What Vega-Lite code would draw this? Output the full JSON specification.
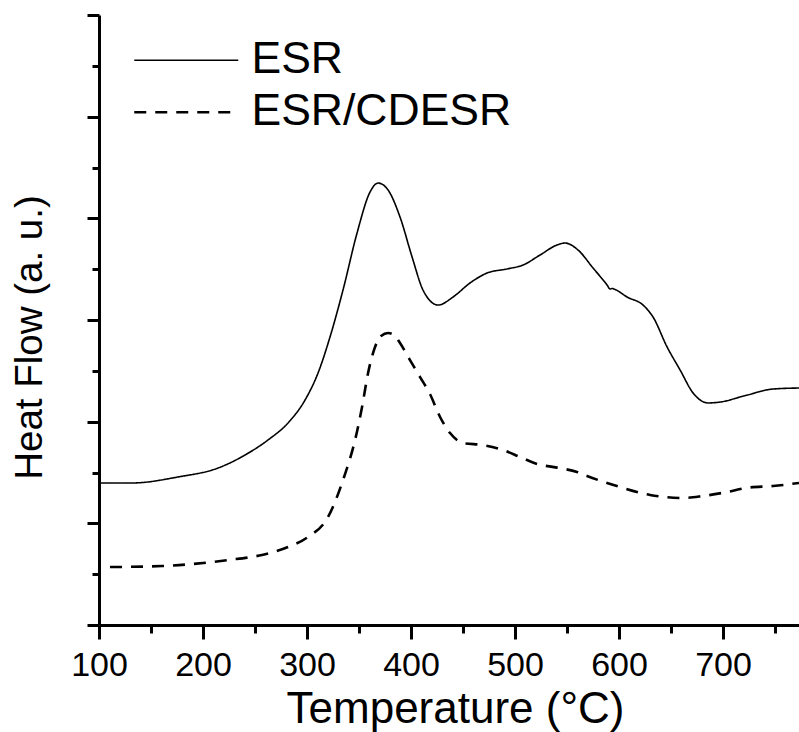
{
  "$schema": "https://vega.github.io/schema/vega-lite/v6.json",
  "width": 700,
  "height": 610,
  "autosize": {"type": "none"},
  "padding": {"left": 99, "top": 15, "right": 0, "bottom": 107},
  "background": "white",
  "config": {
    "view": {"stroke": null},
    "font": "Arial"
  },
  "data": {
    "values": [
      {"series": "ESR", "t": 100, "h": 1.397},
      {"series": "ESR", "t": 131.7, "h": 1.397},
      {"series": "ESR", "t": 176, "h": 1.456},
      {"series": "ESR", "t": 214.4, "h": 1.544},
      {"series": "ESR", "t": 240.4, "h": 1.672},
      {"series": "ESR", "t": 262.5, "h": 1.82},
      {"series": "ESR", "t": 281.7, "h": 1.987},
      {"series": "ESR", "t": 298.1, "h": 2.213},
      {"series": "ESR", "t": 310.6, "h": 2.479},
      {"series": "ESR", "t": 322.1, "h": 2.833},
      {"series": "ESR", "t": 334.6, "h": 3.295},
      {"series": "ESR", "t": 348.1, "h": 3.856},
      {"series": "ESR", "t": 360.6, "h": 4.259},
      {"series": "ESR", "t": 368.3, "h": 4.347},
      {"series": "ESR", "t": 377.9, "h": 4.279},
      {"series": "ESR", "t": 389.4, "h": 4.013},
      {"series": "ESR", "t": 401, "h": 3.62},
      {"series": "ESR", "t": 411.5, "h": 3.295},
      {"series": "ESR", "t": 426, "h": 3.147},
      {"series": "ESR", "t": 440.4, "h": 3.226},
      {"series": "ESR", "t": 456.7, "h": 3.364},
      {"series": "ESR", "t": 473.1, "h": 3.462},
      {"series": "ESR", "t": 492.3, "h": 3.502},
      {"series": "ESR", "t": 507.7, "h": 3.541},
      {"series": "ESR", "t": 524, "h": 3.639},
      {"series": "ESR", "t": 540.4, "h": 3.738},
      {"series": "ESR", "t": 548.1, "h": 3.757},
      {"series": "ESR", "t": 560.6, "h": 3.688},
      {"series": "ESR", "t": 575, "h": 3.511},
      {"series": "ESR", "t": 588.5, "h": 3.344},
      {"series": "ESR", "t": 591.3, "h": 3.305},
      {"series": "ESR", "t": 593.3, "h": 3.31},
      {"series": "ESR", "t": 596.2, "h": 3.3},
      {"series": "ESR", "t": 607.7, "h": 3.226},
      {"series": "ESR", "t": 623.1, "h": 3.147},
      {"series": "ESR", "t": 632.7, "h": 3.029},
      {"series": "ESR", "t": 646.2, "h": 2.734},
      {"series": "ESR", "t": 658.7, "h": 2.508},
      {"series": "ESR", "t": 671.2, "h": 2.282},
      {"series": "ESR", "t": 685.6, "h": 2.184},
      {"series": "ESR", "t": 697.1, "h": 2.193},
      {"series": "ESR", "t": 723.1, "h": 2.262},
      {"series": "ESR", "t": 748.1, "h": 2.321},
      {"series": "ESR", "t": 773, "h": 2.331},
      {"series": "ESR/CDESR", "t": 110.6, "h": 0.57},
      {"series": "ESR/CDESR", "t": 160.6, "h": 0.58},
      {"series": "ESR/CDESR", "t": 224, "h": 0.639},
      {"series": "ESR/CDESR", "t": 256.7, "h": 0.689},
      {"series": "ESR/CDESR", "t": 281.7, "h": 0.767},
      {"series": "ESR/CDESR", "t": 301, "h": 0.866},
      {"series": "ESR/CDESR", "t": 320.2, "h": 1.062},
      {"series": "ESR/CDESR", "t": 335.6, "h": 1.456},
      {"series": "ESR/CDESR", "t": 346.2, "h": 1.82},
      {"series": "ESR/CDESR", "t": 352.9, "h": 2.144},
      {"series": "ESR/CDESR", "t": 358.7, "h": 2.479},
      {"series": "ESR/CDESR", "t": 365.4, "h": 2.734},
      {"series": "ESR/CDESR", "t": 371.2, "h": 2.843},
      {"series": "ESR/CDESR", "t": 377.9, "h": 2.872},
      {"series": "ESR/CDESR", "t": 383.7, "h": 2.852},
      {"series": "ESR/CDESR", "t": 389.4, "h": 2.774},
      {"series": "ESR/CDESR", "t": 399, "h": 2.606},
      {"series": "ESR/CDESR", "t": 408.7, "h": 2.439},
      {"series": "ESR/CDESR", "t": 418.3, "h": 2.27},
      {"series": "ESR/CDESR", "t": 427.9, "h": 2.046},
      {"series": "ESR/CDESR", "t": 437.5, "h": 1.888},
      {"series": "ESR/CDESR", "t": 450, "h": 1.79},
      {"series": "ESR/CDESR", "t": 469.2, "h": 1.77},
      {"series": "ESR/CDESR", "t": 488.5, "h": 1.721},
      {"series": "ESR/CDESR", "t": 504.8, "h": 1.652},
      {"series": "ESR/CDESR", "t": 521.2, "h": 1.584},
      {"series": "ESR/CDESR", "t": 540.4, "h": 1.548},
      {"series": "ESR/CDESR", "t": 559.6, "h": 1.505},
      {"series": "ESR/CDESR", "t": 569.2, "h": 1.466},
      {"series": "ESR/CDESR", "t": 601, "h": 1.357},
      {"series": "ESR/CDESR", "t": 629.8, "h": 1.279},
      {"series": "ESR/CDESR", "t": 661.5, "h": 1.249},
      {"series": "ESR/CDESR", "t": 680.8, "h": 1.269},
      {"series": "ESR/CDESR", "t": 703.8, "h": 1.308},
      {"series": "ESR/CDESR", "t": 723.1, "h": 1.35},
      {"series": "ESR/CDESR", "t": 748.1, "h": 1.367},
      {"series": "ESR/CDESR", "t": 773, "h": 1.397}
    ]
  },
  "mark": {"type": "line", "interpolate": "monotone", "color": "black", "clip": true},
  "encoding": {
    "x": {
      "field": "t", "type": "quantitative",
      "scale": {"domain": [100, 773], "nice": false, "zero": false},
      "axis": {
        "values": [100, 150, 200, 250, 300, 350, 400, 450, 500, 550, 600, 650, 700, 750],
        "labelExpr": "datum.value % 100 === 0 ? datum.label : ''",
        "tickSize": {"expr": "datum.value % 100 === 0 ? 14 : 8"},
        "tickWidth": 3, "tickColor": "black",
        "domainWidth": 3, "domainColor": "black",
        "grid": false,
        "labelFontSize": 34, "labelColor": "black", "labelFont": "Arial",
        "labelPadding": 9, "labelFlush": false, "labelOverlap": false,
        "title": "Temperature (°C)",
        "titleFontSize": 44, "titleFontWeight": "normal", "titleColor": "black", "titleFont": "Arial",
        "titleX": 356, "titleY": 97, "titleBaseline": "alphabetic", "titleAlign": "center"
      }
    },
    "y": {
      "field": "h", "type": "quantitative",
      "scale": {"domain": [0, 6], "nice": false, "zero": false},
      "axis": {
        "values": [0, 0.5, 1, 1.5, 2, 2.5, 3, 3.5, 4, 4.5, 5, 5.5, 6],
        "labels": false,
        "tickSize": {"expr": "datum.value % 1 === 0 ? 12 : 7"},
        "tickWidth": 3, "tickColor": "black",
        "domainWidth": 3, "domainColor": "black",
        "grid": false,
        "title": "Heat Flow (a. u.)",
        "titleFontSize": 38.5, "titleFontWeight": "normal", "titleColor": "black", "titleFont": "Arial",
        "titleAngle": -90, "titleX": -88, "titleY": 322, "titleBaseline": "top", "titleAlign": "center"
      }
    },
    "strokeDash": {
      "field": "series", "type": "nominal",
      "scale": {"domain": ["ESR", "ESR/CDESR"], "range": [[1, 0], [12, 9]]},
      "legend": {
        "orient": "none", "legendX": 26, "legendY": 23, "title": null, "padding": 0,
        "symbolType": "M-1,0H7", "symbolSize": 676, "symbolStrokeColor": "black", "symbolStrokeWidth": 1.8,
        "labelFontSize": 44.5, "labelFont": "Arial", "labelColor": "black", "labelLimit": 0,
        "labelOffset": 82, "rowPadding": 7
      }
    },
    "strokeWidth": {
      "field": "series", "type": "nominal",
      "scale": {"domain": ["ESR", "ESR/CDESR"], "range": [1.6, 2.6]},
      "legend": null
    }
  }
}
